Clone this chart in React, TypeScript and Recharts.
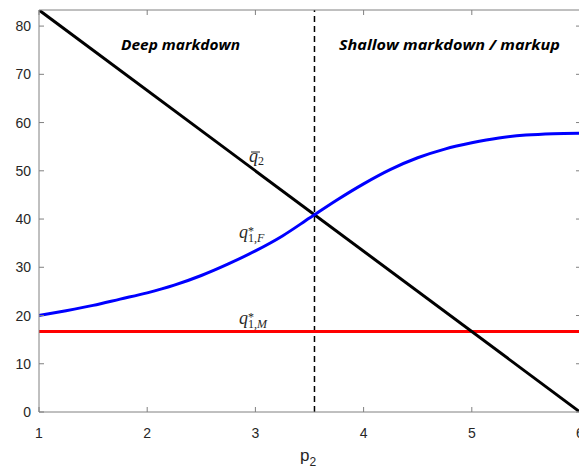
import { LineChart, Line, XAxis, YAxis, ReferenceLine } from 'recharts';

// price of good 2 on the horizontal axis
const P_MIN = 1;
const P_MAX = 6;
const X_TICKS = [1, 2, 3, 4, 5, 6];
const Y_TICKS = [0, 10, 20, 30, 40, 50, 60, 70, 80];
const Y_MAX = 250 / 3;

// threshold price separating the two regimes
const P_SWITCH = 3.546;

// q-bar_2 : straight capacity line
const qBar2 = [
  { p: 1, q: 83.33 },
  { p: 6, q: 0 },
];

// q*_{1,M} : flat
const q1M = [
  { p: 1, q: 16.67 },
  { p: 6, q: 16.67 },
];

// q*_{1,F} : s-shaped response
const q1F = [
  { p: 1.0, q: 20.0 },
  { p: 1.25, q: 21.0 },
  { p: 1.5, q: 22.1 },
  { p: 1.75, q: 23.4 },
  { p: 2.0, q: 24.7 },
  { p: 2.25, q: 26.3 },
  { p: 2.5, q: 28.3 },
  { p: 2.75, q: 30.7 },
  { p: 3.0, q: 33.4 },
  { p: 3.25, q: 36.5 },
  { p: 3.5, q: 40.2 },
  { p: 3.75, q: 43.9 },
  { p: 4.0, q: 47.3 },
  { p: 4.25, q: 50.3 },
  { p: 4.5, q: 52.7 },
  { p: 4.75, q: 54.5 },
  { p: 5.0, q: 55.8 },
  { p: 5.25, q: 56.8 },
  { p: 5.5, q: 57.4 },
  { p: 5.75, q: 57.7 },
  { p: 6.0, q: 57.8 },
];

const AXIS = '#808080';
const TEXT = '#262626';
const SANS = '"Liberation Sans", Arial, sans-serif';
const SERIF = '"Liberation Serif", "Times New Roman", serif';
const NOTE = '"Open Sans", "Noto Sans", sans-serif';

const BottomTick = ({ x, y, payload }: any) => (
  <g>
    <line x1={x} x2={x} y1={y} y2={y - 5} stroke={AXIS} />
    <text x={x} y={y + 26} textAnchor="middle" fontFamily={SANS} fontSize={14} fill={TEXT}>
      {payload.value}
    </text>
  </g>
);

const TopTick = ({ x, y }: any) => <line x1={x} x2={x} y1={y} y2={y + 5} stroke={AXIS} />;

const LeftTick = ({ x, y, payload }: any) => (
  <g>
    <line x1={x} x2={x + 5} y1={y} y2={y} stroke={AXIS} />
    <text x={x - 8} y={y + 5} textAnchor="end" fontFamily={SANS} fontSize={14} fill={TEXT}>
      {payload.value}
    </text>
  </g>
);

const RightTick = ({ x, y }: any) => <line x1={x} x2={x - 4} y1={y} y2={y} stroke={AXIS} />;

export default function App() {
  return (
    <div
      style={{
        position: 'fixed',
        left: 0,
        top: 0,
        width: 579,
        height: 474,
        overflow: 'hidden',
        background: '#fff',
      }}
    >
      <LineChart width={600} height={474} margin={{ top: 9, right: 19, bottom: 0, left: 0 }}>
        <XAxis
          dataKey="p"
          type="number"
          domain={[P_MIN, P_MAX]}
          ticks={X_TICKS}
          allowDataOverflow
          height={62}
          stroke={AXIS}
          tickLine={false}
          tickSize={0}
          tickMargin={0}
          tick={BottomTick}
        />
        <XAxis
          xAxisId="top"
          orientation="top"
          dataKey="p"
          type="number"
          domain={[P_MIN, P_MAX]}
          ticks={X_TICKS}
          allowDataOverflow
          height={1}
          stroke={AXIS}
          tickLine={false}
          tickSize={0}
          tickMargin={0}
          tick={TopTick}
        />
        <YAxis
          type="number"
          domain={[0, Y_MAX]}
          ticks={Y_TICKS}
          allowDataOverflow
          width={39}
          stroke={AXIS}
          tickLine={false}
          tickSize={0}
          tickMargin={0}
          tick={LeftTick}
        />
        <YAxis
          yAxisId="right"
          orientation="right"
          type="number"
          domain={[0, Y_MAX]}
          ticks={Y_TICKS}
          allowDataOverflow
          width={1}
          stroke={AXIS}
          tickLine={false}
          tickSize={0}
          tickMargin={0}
          tick={RightTick}
        />
        <ReferenceLine x={P_SWITCH} stroke="#000" strokeWidth={1.5} strokeDasharray="6 4" />
        <Line data={q1M} dataKey="q" type="linear" stroke="#ff0000" strokeWidth={3} dot={false} isAnimationActive={false} />
        {/* drawn on the top/right pair so the box axes get a series of their own */}
        <Line
          data={qBar2}
          dataKey="q"
          xAxisId="top"
          yAxisId="right"
          type="linear"
          stroke="#000000"
          strokeWidth={3}
          dot={false}
          isAnimationActive={false}
        />
        <Line data={q1F} dataKey="q" type="monotone" stroke="#0000ff" strokeWidth={3} dot={false} isAnimationActive={false} />
      </LineChart>

      <svg
        width={579}
        height={474}
        style={{ position: 'absolute', left: 0, top: 0, pointerEvents: 'none' }}
      >
        <text
          x={121}
          y={50}
          fontFamily={NOTE}
          fontWeight="bold"
          fontStyle="italic"
          fontSize={15}
          textLength={119}
          lengthAdjust="spacingAndGlyphs"
          fill="#000"
        >
          Deep markdown
        </text>
        <text
          x={339}
          y={50}
          fontFamily={NOTE}
          fontWeight="bold"
          fontStyle="italic"
          fontSize={15}
          textLength={221}
          lengthAdjust="spacingAndGlyphs"
          fill="#000"
        >
          Shallow markdown / markup
        </text>

        {/* q-bar_2 */}
        <line x1={251} x2={260} y1={152} y2={152} stroke={TEXT} strokeWidth={1} />
        <text x={249} y={162} fontFamily={SERIF} fontStyle="italic" fontSize={18} fill={TEXT}>
          q
          <tspan fontStyle="normal" fontSize={12} dy={3}>2</tspan>
        </text>

        {/* q*_{1,F} */}
        <text x={239} y={238} fontFamily={SERIF} fontStyle="italic" fontSize={18} fill={TEXT}>
          q
          <tspan fontStyle="normal" fontSize={12} dy={-3}>*</tspan>
          <tspan fontStyle="normal" fontSize={12} dx={-6} dy={7}>1,</tspan>
          <tspan fontSize={12}>F</tspan>
        </text>

        {/* q*_{1,M} */}
        <text x={239} y={324} fontFamily={SERIF} fontStyle="italic" fontSize={18} fill={TEXT}>
          q
          <tspan fontStyle="normal" fontSize={12} dy={-3}>*</tspan>
          <tspan fontStyle="normal" fontSize={12} dx={-6} dy={7}>1,</tspan>
          <tspan fontSize={12}>M</tspan>
        </text>

        {/* axis title */}
        <text x={300} y={461} fontFamily={SANS} fontSize={17} fill={TEXT}>
          p<tspan fontSize={12} dy={5}>2</tspan>
        </text>
      </svg>
    </div>
  );
}
